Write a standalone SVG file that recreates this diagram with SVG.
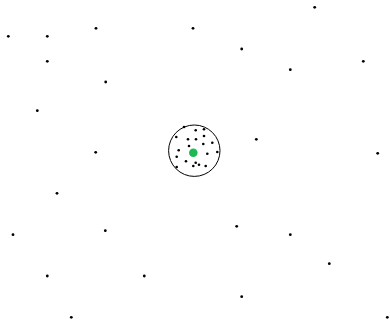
<svg xmlns="http://www.w3.org/2000/svg" width="390" height="329" viewBox="0 0 390 329">
<style>
.d{fill:#000}
.in{fill:#000}
</style>
<rect width="390" height="329" fill="#fff"/>
<g id="scatter">
<circle class="d" cx="8.3" cy="36.3" r="1.4"/>
<circle class="d" cx="47.3" cy="36.3" r="1.4"/>
<circle class="d" cx="96" cy="28.3" r="1.4"/>
<circle class="d" cx="47.3" cy="61.3" r="1.4"/>
<circle class="d" cx="105.7" cy="82" r="1.4"/>
<circle class="d" cx="37.3" cy="110.7" r="1.4"/>
<circle class="d" cx="193" cy="28.3" r="1.4"/>
<circle class="d" cx="241.7" cy="49" r="1.4"/>
<circle class="d" cx="314.7" cy="7.3" r="1.4"/>
<circle class="d" cx="363.3" cy="61.3" r="1.4"/>
<circle class="d" cx="290.3" cy="69.7" r="1.4"/>
<circle class="d" cx="95.7" cy="152.3" r="1.4"/>
<circle class="d" cx="57" cy="193.3" r="1.4"/>
<circle class="d" cx="377.7" cy="153.3" r="1.4"/>
<circle class="d" cx="256.3" cy="139.3" r="1.4"/>
<circle class="d" cx="236.7" cy="226.3" r="1.4"/>
<circle class="d" cx="144.3" cy="276" r="1.4"/>
<circle class="d" cx="241.7" cy="296.7" r="1.4"/>
<circle class="d" cx="13" cy="234.7" r="1.4"/>
<circle class="d" cx="105.3" cy="230.7" r="1.4"/>
<circle class="d" cx="47.3" cy="276" r="1.4"/>
<circle class="d" cx="71.3" cy="317.3" r="1.4"/>
<circle class="d" cx="290.3" cy="234.7" r="1.4"/>
<circle class="d" cx="329.3" cy="263.7" r="1.4"/>
<circle class="d" cx="387.3" cy="317.3" r="1.4"/>
</g>
<g id="cluster">
<circle cx="194.3" cy="150.7" r="25.7" fill="none" stroke="#000" stroke-width="1"/>
<circle class="in" cx="184" cy="127" r="1.3"/>
<circle class="in" cx="176.3" cy="137" r="1.3"/>
<circle class="in" cx="195.7" cy="130.3" r="1.3"/>
<circle class="in" cx="204" cy="129.3" r="1.3"/>
<circle class="in" cx="188" cy="139.3" r="1.3"/>
<circle class="in" cx="196" cy="139.3" r="1.3"/>
<circle class="in" cx="204" cy="136" r="1.3"/>
<circle class="in" cx="203.3" cy="144" r="1.3"/>
<circle class="in" cx="212.3" cy="142.7" r="1.3"/>
<circle class="in" cx="189" cy="146" r="1.3"/>
<circle class="in" cx="217.3" cy="152" r="1.3"/>
<circle class="in" cx="207.3" cy="153.7" r="1.3"/>
<circle class="in" cx="178.7" cy="150.3" r="1.3"/>
<circle class="in" cx="176.7" cy="156.7" r="1.3"/>
<circle class="in" cx="186" cy="161.3" r="1.3"/>
<circle class="in" cx="195.7" cy="162.7" r="1.3"/>
<circle class="in" cx="193.3" cy="166" r="1.3"/>
<circle class="in" cx="199" cy="164.7" r="1.3"/>
<circle class="in" cx="205.7" cy="166" r="1.3"/>
<circle class="in" cx="176.7" cy="167" r="1.3"/>
<circle cx="193.3" cy="152.7" r="4.3" fill="#1db954"/>
</g>
</svg>
